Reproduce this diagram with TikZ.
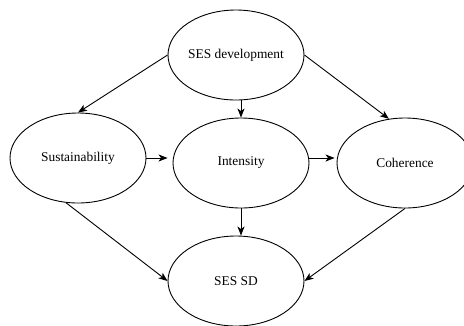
\documentclass[tikz,border=0pt]{standalone}
\usepackage{fontspec}
\setmainfont{Liberation Serif}
\usetikzlibrary{shapes.geometric,arrows.meta}
\begin{document}
\begin{tikzpicture}[x=1pt,y=-1pt,
  ell/.style={draw,ellipse,line width=0.9pt,minimum width=136pt,minimum height=90pt,inner sep=0pt,font=\fontsize{13.4}{15}\selectfont},
  arr/.style={draw,line width=0.9pt,-{Stealth[length=9pt,width=7pt,inset=2.5pt]}}]
\useasboundingbox (0,0) rectangle (464,325);
\clip (0,0) rectangle (464,325);
\node[ell] (dev) at (236,55) {SES development};
\node[ell] (sus) at (78,158) {Sustainability};
\node[ell] (int) at (241,163) {Intensity};
\node[ell] (coh) at (405,163) {Coherence};
\node[ell] (sd) at (236,281) {SES SD};
\path[arr] (dev.west) -- (sus.north);
\path[arr] (int.north |- dev.south) -- (int.north);
\path[arr] (dev.east) -- (coh.110);
\path[arr,shorten >=5pt] (sus.east) -- (sus.east -| int.west);
\path[arr,shorten >=2pt] (int.east |- sus.east) -- (coh.west |- sus.east);
\path[arr] (int.south) -- (int.south |- sd.north);
\path[arr] (sus.-105) -- (sd.west);
\path[arr] (coh.south) -- (sd.east);
\end{tikzpicture}
\end{document}
